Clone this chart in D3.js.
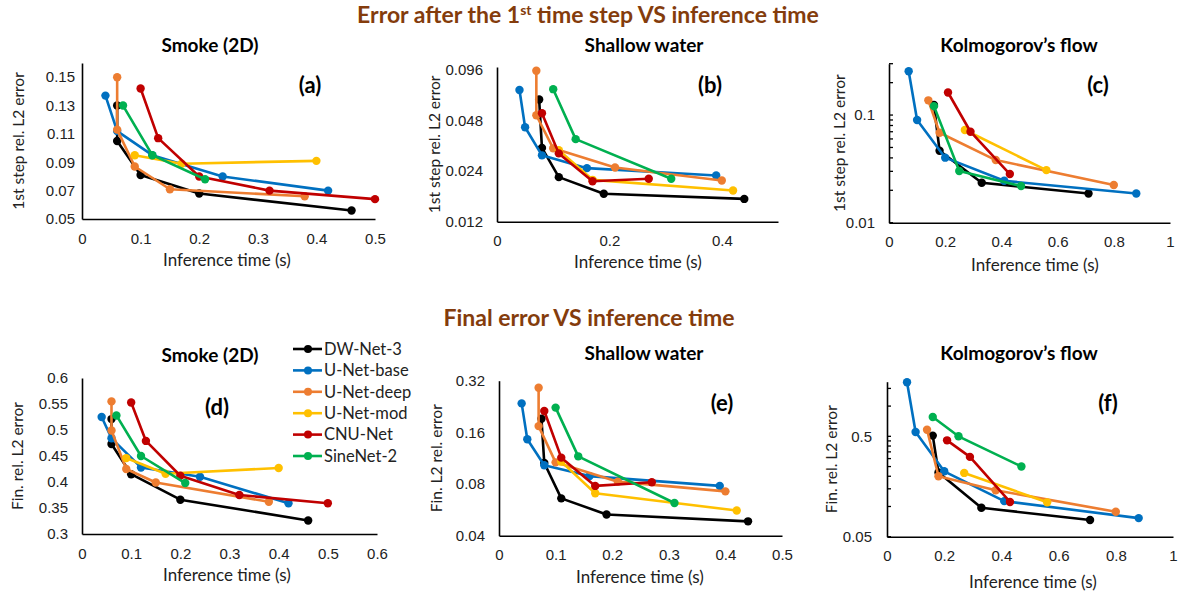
<!DOCTYPE html>
<html lang="en">
<head>
<meta charset="utf-8">
<title>Error vs inference time</title>
<script src="https://d3js.org/d3.v7.min.js"></script>
<style>
  body { margin: 0; background: #fff; }
  svg { font-family: Lato, "Open Sans", sans-serif; }
  .tick text { font-size: 15px; fill: #222; }
  .axis path.domain { stroke: #000; stroke-width: 1.6px; }
  .main-title { font-size: 23px; font-weight: bold; fill: #843C0C; }
  .sub-title { font-size: 19px; font-weight: bold; fill: #000; }
  .panel-tag { font-size: 22px; font-weight: bold; fill: #000; }
  .axis-title { font-size: 17px; fill: #222; }
  .axis-title.yl { font-size: 15.5px; }
  .legend text { font-size: 16.5px; fill: #222; }
</style>
</head>
<body>
<script>
var models = ["DW-Net-3", "U-Net-base", "U-Net-deep", "U-Net-mod", "CNU-Net", "SineNet-2"];
var colors = ["#000000", "#0070C0", "#ED7D31", "#FFC000", "#C00000", "#00B050"];

// [inference time (s), error], one list per model in the order above

// (a) Smoke, 1st step
var smokeStep = [
  [[0.06, 0.130], [0.06, 0.105], [0.10, 0.081], [0.20, 0.068], [0.46, 0.056]],
  [[0.04, 0.137], [0.06, 0.112], [0.12, 0.095], [0.24, 0.080], [0.42, 0.070]],
  [[0.06, 0.150], [0.06, 0.113], [0.09, 0.087], [0.15, 0.071], [0.38, 0.066]],
  [[0.09, 0.095], [0.17, 0.089], [0.40, 0.091]],
  [[0.10, 0.142], [0.13, 0.107], [0.20, 0.080], [0.32, 0.070], [0.50, 0.064]],
  [[0.07, 0.130], [0.12, 0.095], [0.21, 0.078]]
];
// (b) Shallow water, 1st step
var waterStep = [
  [[0.075, 0.064], [0.08, 0.033], [0.11, 0.0221], [0.19, 0.0176], [0.44, 0.0164]],
  [[0.04, 0.073], [0.05, 0.0438], [0.08, 0.0298], [0.16, 0.0250], [0.39, 0.0226]],
  [[0.07, 0.095], [0.07, 0.0516], [0.10, 0.0328], [0.21, 0.0252], [0.40, 0.0211]],
  [[0.11, 0.032], [0.17, 0.0213], [0.42, 0.0184]],
  [[0.08, 0.053], [0.11, 0.0306], [0.17, 0.0209], [0.27, 0.0216]],
  [[0.10, 0.0738], [0.14, 0.0372], [0.31, 0.0216]]
];
// (c) Kolmogorov flow, 1st step
var kolmoStep = [
  [[0.16, 0.124], [0.18, 0.0466], [0.33, 0.0235], [0.71, 0.0187]],
  [[0.07, 0.255], [0.10, 0.0899], [0.20, 0.0402], [0.41, 0.0245], [0.88, 0.0187]],
  [[0.14, 0.137], [0.18, 0.0685], [0.38, 0.0382], [0.80, 0.0224]],
  [[0.27, 0.0726], [0.56, 0.0308]],
  [[0.21, 0.162], [0.29, 0.070], [0.43, 0.0283]],
  [[0.16, 0.121], [0.25, 0.0302], [0.47, 0.0219]]
];
// (d) Smoke, final
var smokeFinal = [
  [[0.06, 0.521], [0.06, 0.473], [0.10, 0.415], [0.20, 0.366], [0.46, 0.326]],
  [[0.04, 0.525], [0.06, 0.484], [0.12, 0.428], [0.24, 0.410], [0.42, 0.359]],
  [[0.06, 0.555], [0.06, 0.499], [0.09, 0.425], [0.15, 0.399], [0.38, 0.362]],
  [[0.09, 0.446], [0.17, 0.416], [0.40, 0.427]],
  [[0.10, 0.553], [0.13, 0.479], [0.20, 0.412], [0.32, 0.375], [0.50, 0.359]],
  [[0.07, 0.528], [0.12, 0.450], [0.21, 0.398]]
];
// (e) Shallow water, final
var waterFinal = [
  [[0.075, 0.192], [0.08, 0.106], [0.11, 0.066], [0.19, 0.0532], [0.44, 0.0485]],
  [[0.04, 0.236], [0.05, 0.146], [0.08, 0.103], [0.16, 0.089], [0.39, 0.078]],
  [[0.07, 0.291], [0.07, 0.174], [0.10, 0.107], [0.21, 0.0826], [0.40, 0.0725]],
  [[0.11, 0.108], [0.17, 0.0707], [0.42, 0.0561]],
  [[0.08, 0.213], [0.11, 0.114], [0.17, 0.078], [0.27, 0.082]],
  [[0.10, 0.223], [0.14, 0.116], [0.31, 0.062]]
];
// (f) Kolmogorov flow, final
var kolmoFinal = [
  [[0.16, 0.508], [0.18, 0.218], [0.33, 0.097], [0.71, 0.0733]],
  [[0.07, 1.73], [0.10, 0.552], [0.20, 0.224], [0.41, 0.113], [0.88, 0.0766]],
  [[0.14, 0.582], [0.18, 0.200], [0.38, 0.145], [0.80, 0.0886]],
  [[0.27, 0.216], [0.56, 0.110]],
  [[0.21, 0.456], [0.29, 0.312], [0.43, 0.111]],
  [[0.16, 0.78], [0.25, 0.50], [0.47, 0.25]]
];

// tick values
var xTicksA = [0, 0.1, 0.2, 0.3, 0.4, 0.5];
var xTicksB = [0, 0.2, 0.4];
var xTicksC = [0, 0.2, 0.4, 0.6, 0.8, 1];
var xTicksD = [0, 0.1, 0.2, 0.3, 0.4, 0.5, 0.6];
var yTicksA = [0.05, 0.07, 0.09, 0.11, 0.13, 0.15];
var yTicksB = [0.012, 0.024, 0.048, 0.096];
var yTicksC = [0.01, 0.1];
var yMinorC = [0.02, 0.03, 0.04, 0.05, 0.06, 0.07, 0.08, 0.09, 0.2, 0.3];
var yTicksD = [0.3, 0.35, 0.4, 0.45, 0.5, 0.55, 0.6];
var yTicksE = [0.04, 0.08, 0.16, 0.32];
var yTicksF = [0.05, 0.5];
var yMinorF = [0.1, 0.15, 0.2, 0.25, 0.3, 0.35, 0.4, 0.45, 1, 1.5];

var width = 1181, height = 595;

var svg = d3.select("body").append("svg")
    .attr("width", width)
    .attr("height", height);

var trim = function(d) { return String(+d.toFixed(3)); };

var panels = [
  {data: smokeStep, tag: "(a)", title: "Smoke (2D)", ylabel: "1st step rel. L2 error",
   x0: 82, x1: 375, yb: 219, yt: 63, xd: [0, 0.5], yd: [0.05, 0.16], log: false,
   xt: xTicksA, yt2: yTicksA, ypad: 7, ylx: 19, tagx: 310, tagy: 85, titlex: 210, titley: 45, xlabely: 260, xlabelx: 227},
  {data: waterStep, tag: "(b)", title: "Shallow water", ylabel: "1st step rel. L2 error",
   x0: 497, x1: 778, yb: 221.7, yt: 67, xd: [0, 0.5], yd: [0.012, 0.1], log: true,
   xt: xTicksB, yt2: yTicksB, ypad: 14, ylx: 435, tagx: 710, tagy: 85, titlex: 644, titley: 45, xlabely: 262, xlabelx: 638},
  {data: kolmoStep, tag: "(c)", title: "Kolmogorov\u2019s flow", ylabel: "1st step rel. L2 error",
   x0: 889, x1: 1170, yb: 222.7, yt: 63.7, xd: [0, 1], yd: [0.01, 0.3], log: true, minor: yMinorC,
   xt: xTicksC, yt2: yTicksC, ypad: 14, ylx: 840, tagx: 1098, tagy: 85, titlex: 1019, titley: 45, xlabely: 265, xlabelx: 1035},
  {data: smokeFinal, tag: "(d)", title: "Smoke (2D)", ylabel: "Fin. rel. L2 error",
   x0: 82, x1: 377, yb: 534, yt: 378, xd: [0, 0.6], yd: [0.3, 0.6], log: false,
   xt: xTicksD, yt2: yTicksD, ypad: 14, ylx: 18, tagx: 217, tagy: 407, titlex: 210, titley: 355, xlabely: 575, xlabelx: 227},
  {data: waterFinal, tag: "(e)", title: "Shallow water", ylabel: "Fin. L2 rel. error",
   x0: 499, x1: 782, yb: 535.7, yt: 380.7, xd: [0, 0.5], yd: [0.04, 0.32], log: true,
   xt: xTicksA, yt2: yTicksE, ypad: 14, ylx: 437, tagx: 722, tagy: 403, titlex: 644, titley: 353, xlabely: 577, xlabelx: 640},
  {data: kolmoFinal, tag: "(f)", title: "Kolmogorov\u2019s flow", ylabel: "Fin. rel. L2 error",
   x0: 887, x1: 1173, yb: 536.7, yt: 381.7, xd: [0, 1], yd: [0.05, 1.75], log: true, minor: yMinorF,
   xt: xTicksC, yt2: yTicksF, ypad: 15, ylx: 832, tagx: 1108, tagy: 403, titlex: 1019, titley: 353, xlabely: 582, xlabelx: 1033}
];

panels.forEach(function(p) {
  var x = d3.scaleLinear().domain(p.xd).range([p.x0, p.x1]);
  var y = (p.log ? d3.scaleLog() : d3.scaleLinear()).domain(p.yd).range([p.yb, p.yt]);

  svg.append("g")
      .attr("class", "axis")
      .attr("transform", "translate(0," + p.yb + ")")
      .call(d3.axisBottom(x).tickValues(p.xt).tickFormat(trim).tickSize(0).tickPadding(14));

  svg.append("g")
      .attr("class", "axis")
      .attr("transform", "translate(" + p.x0 + ",0)")
      .call(d3.axisLeft(y).tickValues(p.yt2).tickFormat(trim).tickSize(0).tickPadding(p.ypad));

  // inward tick marks for the log10 axes
  if (p.minor) {
    svg.append("g").selectAll("line")
        .data(p.minor.concat(p.yt2))
        .enter().append("line")
        .attr("x1", p.x0).attr("x2", p.x0 + 4)
        .attr("y1", function(d) { return y(d); })
        .attr("y2", function(d) { return y(d); })
        .attr("stroke", "#000").attr("stroke-width", 1.3);
  }

  var line = d3.line()
      .x(function(d) { return x(d[0]); })
      .y(function(d) { return y(d[1]); });

  p.data.forEach(function(series, i) {
    var g = svg.append("g");
    g.append("path")
        .datum(series)
        .attr("d", line)
        .attr("fill", "none")
        .attr("stroke", colors[i])
        .attr("stroke-width", 2.6)
        .attr("stroke-linejoin", "round");
    g.selectAll("circle")
        .data(series)
        .enter().append("circle")
        .attr("cx", function(d) { return x(d[0]); })
        .attr("cy", function(d) { return y(d[1]); })
        .attr("r", 4.2)
        .attr("fill", colors[i]);
  });

  svg.append("text").attr("class", "sub-title")
      .attr("x", p.titlex).attr("y", p.titley).attr("dy", "0.35em")
      .attr("text-anchor", "middle").text(p.title);
  svg.append("text").attr("class", "panel-tag")
      .attr("x", p.tagx).attr("y", p.tagy).attr("dy", "0.35em")
      .attr("text-anchor", "middle").text(p.tag);
  svg.append("text").attr("class", "axis-title")
      .attr("x", p.xlabelx).attr("y", p.xlabely).attr("dy", "0.35em")
      .attr("text-anchor", "middle").text("Inference time (s)");
  svg.append("text").attr("class", "axis-title yl")
      .attr("transform", "translate(" + p.ylx + "," + (p.yb + p.yt) / 2 + ") rotate(-90)")
      .attr("dy", "0.35em")
      .attr("text-anchor", "middle").text(p.ylabel);
});

// main titles
var t1 = svg.append("text").attr("class", "main-title")
    .attr("x", 588).attr("y", 15).attr("dy", "0.35em").attr("text-anchor", "middle");
t1.append("tspan").text("Error after the 1");
t1.append("tspan").attr("font-size", "14px").attr("baseline-shift", "super").text("st");
t1.append("tspan").text(" time step VS inference time");

svg.append("text").attr("class", "main-title")
    .attr("x", 589).attr("y", 318).attr("dy", "0.35em").attr("text-anchor", "middle")
    .text("Final error VS inference time");

// legend
var legend = svg.append("g").attr("class", "legend");
var rows = legend.selectAll("g")
    .data(models)
    .enter().append("g")
    .attr("transform", function(d, i) { return "translate(293," + (349 + i * 21.4) + ")"; });
rows.append("line")
    .attr("x1", 0).attr("x2", 29)
    .attr("stroke", function(d, i) { return colors[i]; })
    .attr("stroke-width", 2.6);
rows.append("circle")
    .attr("cx", 15).attr("r", 4)
    .attr("fill", function(d, i) { return colors[i]; });
rows.append("text")
    .attr("x", 31).attr("dy", "0.35em")
    .text(function(d) { return d; });
</script>
</body>
</html>
